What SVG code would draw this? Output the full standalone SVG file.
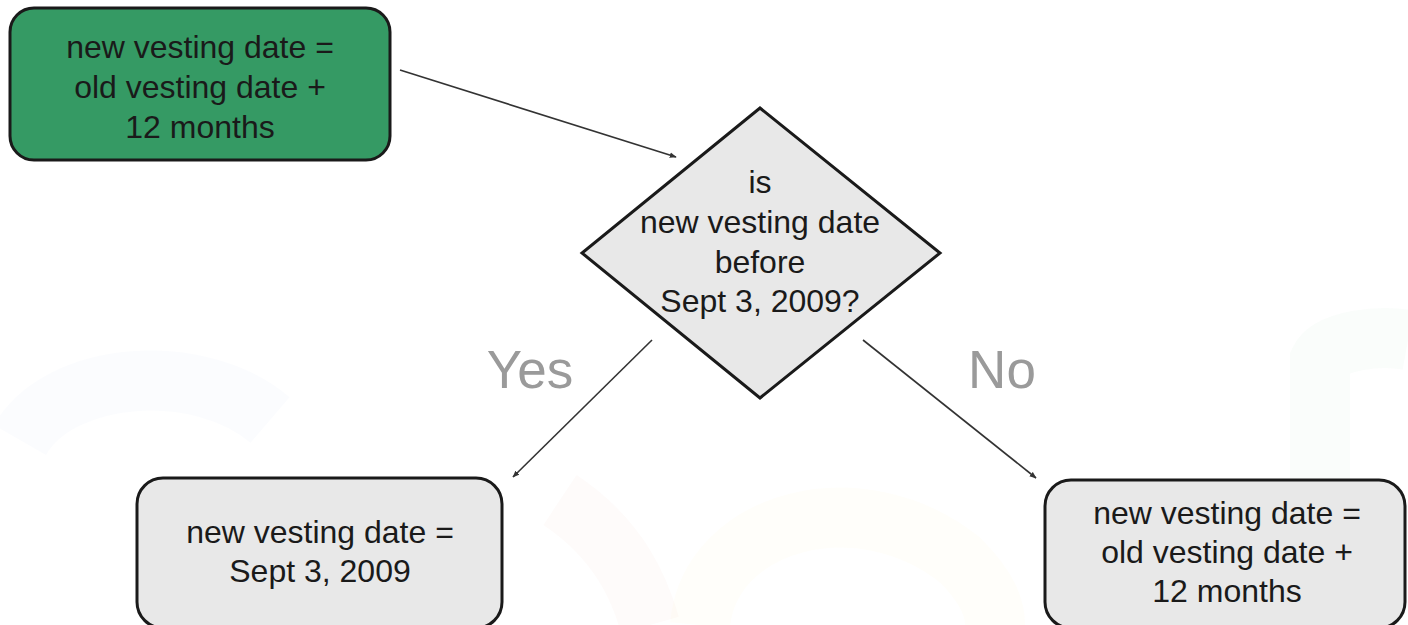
<svg xmlns="http://www.w3.org/2000/svg" width="1408" height="625" viewBox="0 0 1408 625">
  <style>
    .box { stroke: #1a1a1a; stroke-width: 3; }
    .txt { font-family: "Liberation Sans", Arial, sans-serif; font-size: 32px; fill: #1a1a1a; text-anchor: middle; }
    .lbl { font-family: "Liberation Sans", Arial, sans-serif; font-size: 53px; fill: #9a9a9a; text-anchor: middle; }
    .conn { stroke: #333; stroke-width: 1.6; fill: none; marker-end: url(#arrow); }
    .wm { fill: none; stroke-width: 60; opacity: 0.025; }
  </style>
  <defs>
    <marker id="arrow" viewBox="0 0 10 10" refX="9" refY="5" markerWidth="7" markerHeight="7" orient="auto" markerUnits="userSpaceOnUse">
      <path d="M0,1 L10,5 L0,9 Z" fill="#333"/>
    </marker>
  </defs>
  <rect width="1408" height="625" fill="#ffffff"/>
  <g id="watermark">
    <path class="wm" d="M20,440 C60,370 200,360 270,420" stroke="#4a6fd0"/>
    <path class="wm" d="M560,500 C620,540 640,590 650,625" stroke="#e04a3a"/>
    <path class="wm" d="M700,625 C710,520 860,480 960,560 C990,590 995,610 995,625" stroke="#f0c020"/>
    <path class="wm" d="M1320,625 L1320,360 C1330,340 1380,335 1408,340" stroke="#3aa050"/>
  </g>
  <g id="connectors">
    <line class="conn" x1="400" y1="70" x2="676" y2="157"/>
    <line class="conn" x1="652" y1="340" x2="513" y2="477"/>
    <line class="conn" x1="863" y1="340" x2="1036" y2="478"/>
  </g>
  <g id="start">
    <rect class="box" x="10" y="8" width="380" height="152" rx="24" fill="#359a64"/>
    <text class="txt" x="200" y="58" font-size="33">new vesting date =</text>
    <text class="txt" x="200" y="98" font-size="33">old vesting date +</text>
    <text class="txt" x="200" y="138" font-size="33">12 months</text>
  </g>
  <g id="decision">
    <polygon class="box" points="760,108 940,253 760,398 582,253" fill="#e8e8e8" stroke-linejoin="miter"/>
    <text class="txt" x="760" y="193">is</text>
    <text class="txt" x="760" y="233">new vesting date</text>
    <text class="txt" x="760" y="273">before</text>
    <text class="txt" x="760" y="312">Sept 3, 2009?</text>
  </g>
  <g id="label-yes">
    <text class="lbl" x="530" y="388">Yes</text>
  </g>
  <g id="label-no">
    <text class="lbl" x="1002" y="388">No</text>
  </g>
  <g id="yes-result">
    <rect class="box" x="137" y="478" width="365" height="150" rx="26" fill="#e8e8e8"/>
    <text class="txt" x="320" y="543">new vesting date =</text>
    <text class="txt" x="320" y="582">Sept 3, 2009</text>
  </g>
  <g id="no-result">
    <rect class="box" x="1045" y="480" width="360" height="148" rx="26" fill="#e8e8e8"/>
    <text class="txt" x="1227" y="524">new vesting date =</text>
    <text class="txt" x="1227" y="563">old vesting date +</text>
    <text class="txt" x="1227" y="602">12 months</text>
  </g>
</svg>
